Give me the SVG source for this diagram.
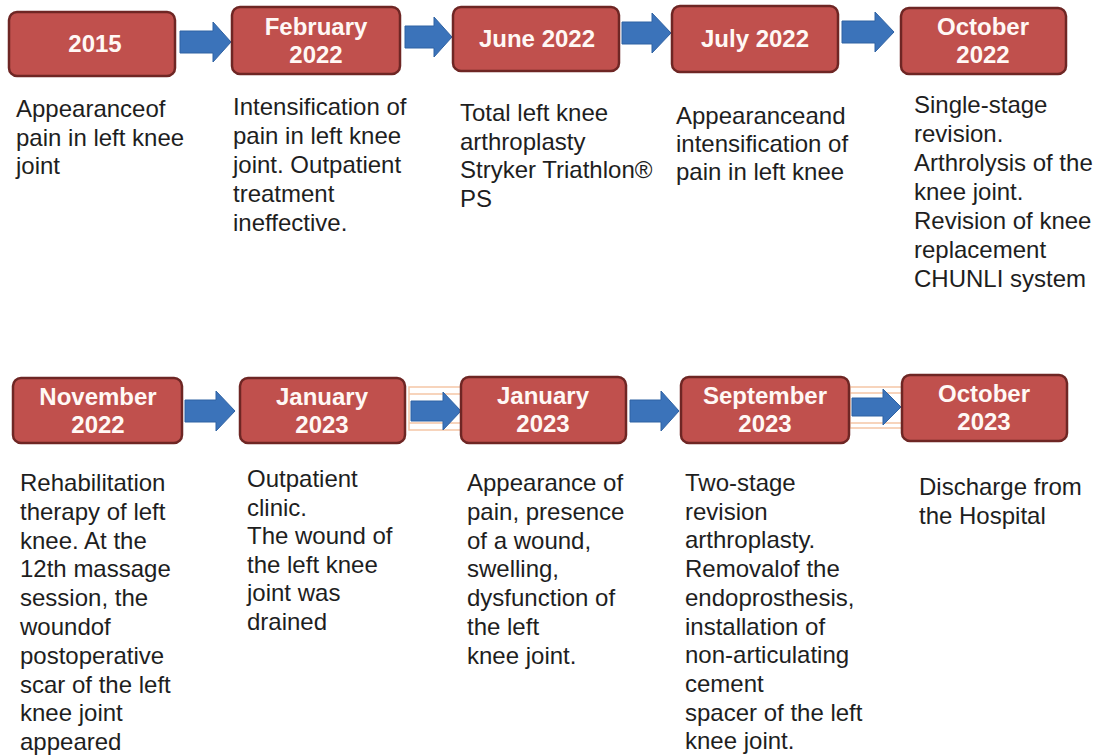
<svg xmlns="http://www.w3.org/2000/svg" width="1102" height="756" viewBox="0 0 1102 756">
<style>
.box{fill:#C0504D;stroke:#6E2624;stroke-width:2.5}
.ttl{fill:#FFF8F5;font-family:"Liberation Sans",Arial,sans-serif;font-weight:bold;font-size:24px;text-anchor:middle}
.body{fill:#1E1E1E;font-family:"Liberation Sans",Arial,sans-serif;font-size:24px}
.arr{fill:#3B73BA;stroke:#2F62A3;stroke-width:1}
.orn{fill:none;stroke:#F5C6A6;stroke-width:1.5}
</style>
<rect width="1102" height="756" fill="#FFFFFF"/>
<g id="connectors">
  <rect class="orn" x="409" y="387" width="52" height="43"/>
  <line class="orn" x1="409" y1="394" x2="461" y2="394"/>
  <line class="orn" x1="409" y1="423" x2="461" y2="423"/>
  <rect class="orn" x="850" y="387" width="52" height="41"/>
  <line class="orn" x1="850" y1="393" x2="902" y2="393"/>
  <line class="orn" x1="850" y1="423" x2="902" y2="423"/>
  <polygon class="arr" points="180,31 213,31 213,22 231,42 213,62 213,53 180,53"/>
  <polygon class="arr" points="405,26 434,26 434,17 452,37 434,57 434,48 405,48"/>
  <polygon class="arr" points="622,22 652,22 652,13 671,33 652,53 652,44 622,44"/>
  <polygon class="arr" points="842,21 875,21 875,12 894,32 875,52 875,43 842,43"/>
  <polygon class="arr" points="185,400 216,400 216,391 235,411 216,431 216,422 185,422"/>
  <polygon class="arr" points="411,401 443,401 443,392 461,411 443,430 443,421 411,421"/>
  <polygon class="arr" points="630,400 661,400 661,391 679,411 661,431 661,422 630,422"/>
  <polygon class="arr" points="852,398 883,398 883,389 901,407 883,425 883,416 852,416"/>
</g>
<g id="n1"><rect class="box" x="9" y="12" width="166" height="64" rx="8"/><text class="ttl" x="95" y="52">2015</text></g>
<g id="n2"><rect class="box" x="232" y="7" width="168" height="67" rx="8"/><text class="ttl" x="316" y="35">February</text><text class="ttl" x="316" y="63">2022</text></g>
<g id="n3"><rect class="box" x="453" y="7" width="166" height="64" rx="8"/><text class="ttl" x="537" y="47">June 2022</text></g>
<g id="n4"><rect class="box" x="672" y="6" width="166" height="66" rx="8"/><text class="ttl" x="755" y="47">July 2022</text></g>
<g id="n5"><rect class="box" x="901" y="8" width="165" height="66" rx="8"/><text class="ttl" x="983" y="35">October</text><text class="ttl" x="983" y="63">2022</text></g>
<g id="n6"><rect class="box" x="13" y="378" width="169" height="65" rx="8"/><text class="ttl" x="98" y="405">November</text><text class="ttl" x="98" y="433">2022</text></g>
<g id="n7"><rect class="box" x="240" y="378" width="165" height="65" rx="8"/><text class="ttl" x="322" y="405">January</text><text class="ttl" x="322" y="433">2023</text></g>
<g id="n8"><rect class="box" x="461" y="377" width="165" height="66" rx="8"/><text class="ttl" x="543" y="404">January</text><text class="ttl" x="543" y="432">2023</text></g>
<g id="n9"><rect class="box" x="681" y="377" width="168" height="66" rx="8"/><text class="ttl" x="765" y="404">September</text><text class="ttl" x="765" y="432">2023</text></g>
<g id="n10"><rect class="box" x="902" y="375" width="165" height="66" rx="8"/><text class="ttl" x="984" y="402">October</text><text class="ttl" x="984" y="430">2023</text></g>
<g id="t1"><text class="body" x="16" y="117"><tspan x="16">Appearanceof</tspan><tspan x="16" dy="28.5">pain in left knee</tspan><tspan x="16" dy="28.5">joint</tspan></text></g>
<g id="t2"><text class="body" x="233" y="115"><tspan x="233">Intensification of</tspan><tspan x="233" dy="29">pain in left knee</tspan><tspan x="233" dy="29">joint. Outpatient</tspan><tspan x="233" dy="29">treatment</tspan><tspan x="233" dy="29">ineffective.</tspan></text></g>
<g id="t3"><text class="body" x="460" y="121"><tspan x="460">Total left knee</tspan><tspan x="460" dy="28.7">arthroplasty</tspan><tspan x="460" dy="28.7">Stryker Triathlon®</tspan><tspan x="460" dy="28.7">PS</tspan></text></g>
<g id="t4"><text class="body" x="676" y="124"><tspan x="676">Appearanceand</tspan><tspan x="676" dy="28">intensification of</tspan><tspan x="676" dy="28">pain in left knee</tspan></text></g>
<g id="t5"><text class="body" x="914" y="113"><tspan x="914">Single-stage</tspan><tspan x="914" dy="29">revision.</tspan><tspan x="914" dy="29">Arthrolysis of the</tspan><tspan x="914" dy="29">knee joint.</tspan><tspan x="914" dy="29">Revision of knee</tspan><tspan x="914" dy="29">replacement</tspan><tspan x="914" dy="29">CHUNLI system</tspan></text></g>
<g id="t6"><text class="body" x="20" y="491"><tspan x="20">Rehabilitation</tspan><tspan x="20" dy="28.8">therapy of left</tspan><tspan x="20" dy="28.8">knee. At the</tspan><tspan x="20" dy="28.8">12th massage</tspan><tspan x="20" dy="28.8">session, the</tspan><tspan x="20" dy="28.8">woundof</tspan><tspan x="20" dy="28.8">postoperative</tspan><tspan x="20" dy="28.8">scar of the left</tspan><tspan x="20" dy="28.8">knee joint</tspan><tspan x="20" dy="28.8">appeared</tspan></text></g>
<g id="t7"><text class="body" x="247" y="487"><tspan x="247">Outpatient</tspan><tspan x="247" dy="28.5">clinic.</tspan><tspan x="247" dy="28.5">The wound of</tspan><tspan x="247" dy="28.5">the left knee</tspan><tspan x="247" dy="28.5">joint was</tspan><tspan x="247" dy="28.5">drained</tspan></text></g>
<g id="t8"><text class="body" x="467" y="491"><tspan x="467">Appearance of</tspan><tspan x="467" dy="28.8">pain, presence</tspan><tspan x="467" dy="28.8">of a wound,</tspan><tspan x="467" dy="28.8">swelling,</tspan><tspan x="467" dy="28.8">dysfunction of</tspan><tspan x="467" dy="28.8">the left</tspan><tspan x="467" dy="28.8">knee joint.</tspan></text></g>
<g id="t9"><text class="body" x="685" y="491"><tspan x="685">Two-stage</tspan><tspan x="685" dy="28.7">revision</tspan><tspan x="685" dy="28.7">arthroplasty.</tspan><tspan x="685" dy="28.7">Removalof the</tspan><tspan x="685" dy="28.7">endoprosthesis,</tspan><tspan x="685" dy="28.7">installation of</tspan><tspan x="685" dy="28.7">non-articulating</tspan><tspan x="685" dy="28.7">cement</tspan><tspan x="685" dy="28.7">spacer of the left</tspan><tspan x="685" dy="28.7">knee joint.</tspan></text></g>
<g id="t10"><text class="body" x="919" y="495"><tspan x="919">Discharge from</tspan><tspan x="919" dy="29">the Hospital</tspan></text></g>
</svg>
